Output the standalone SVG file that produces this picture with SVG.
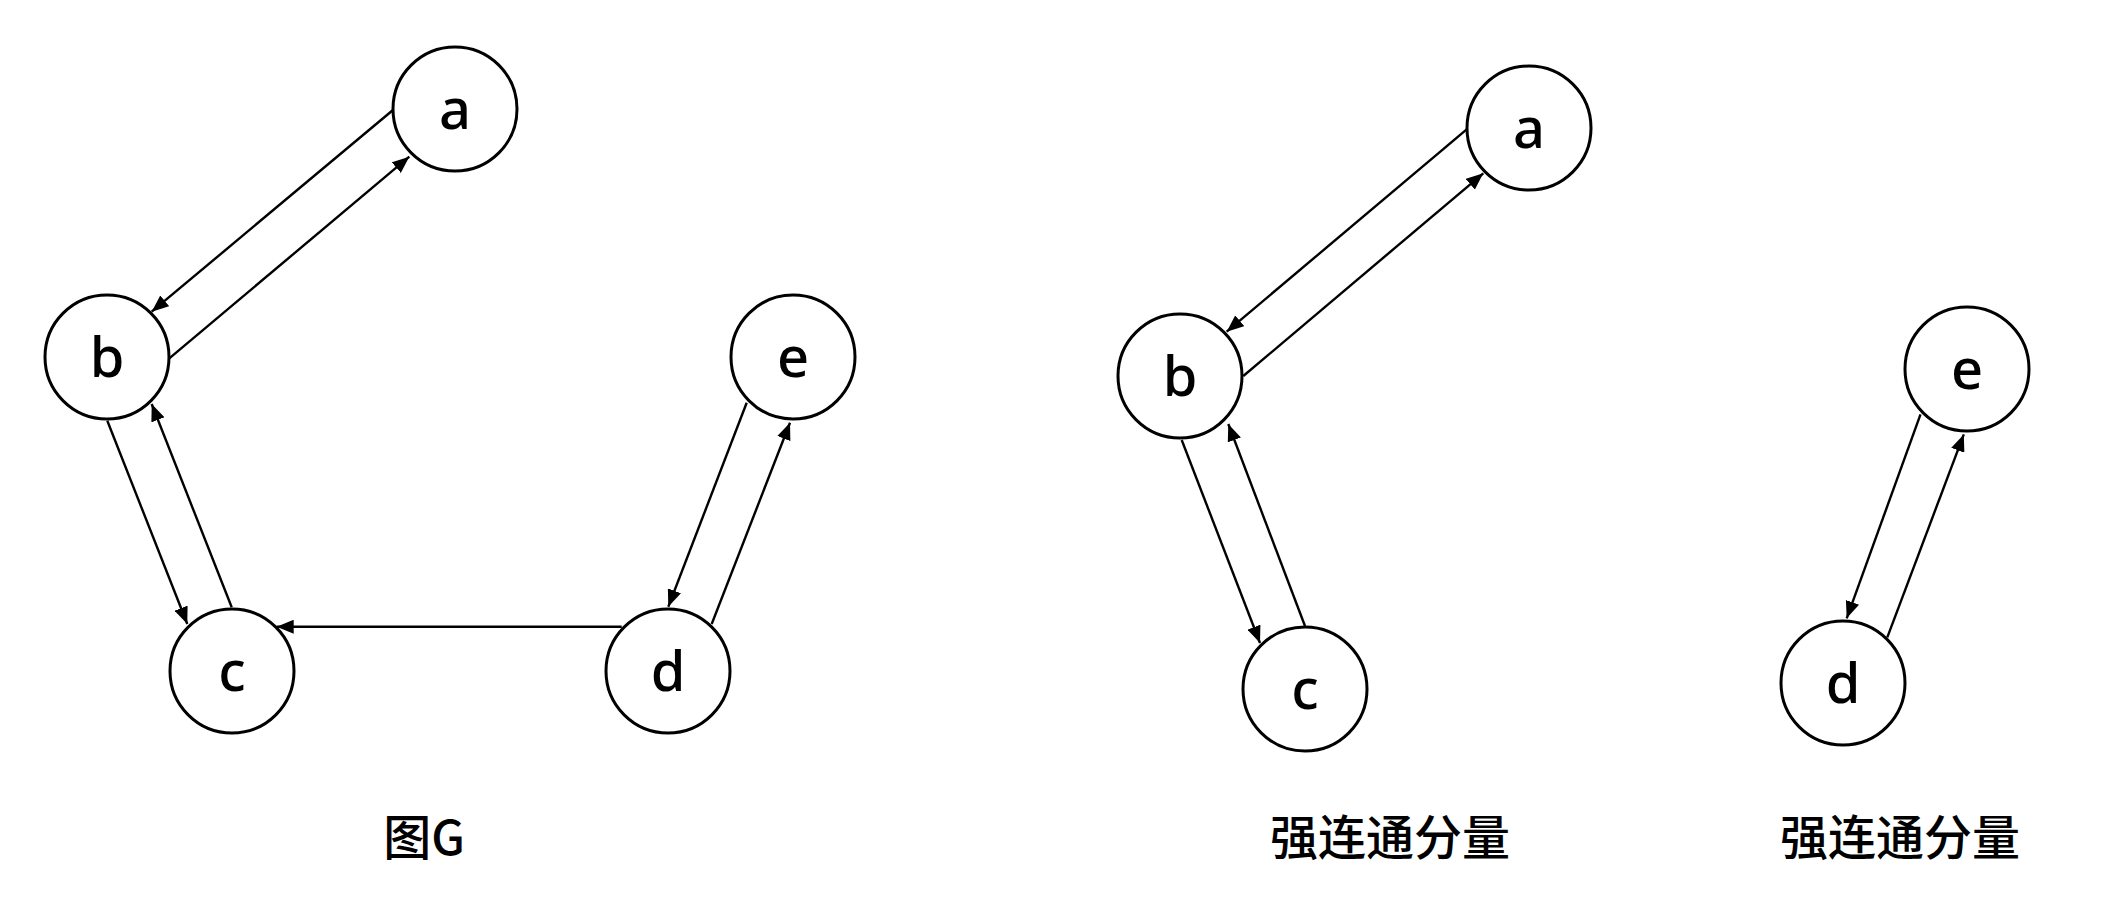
<svg xmlns="http://www.w3.org/2000/svg" width="2120" height="904" viewBox="0 0 2120 904">
<style>
.node circle{fill:#fff;stroke:#000;stroke-width:3}
.node text{font-family:"Noto Sans","Open Sans","DejaVu Sans",sans-serif;font-size:56px;font-weight:500;text-anchor:middle;fill:#000}
.edge{stroke:#000;stroke-width:2.4;fill:none;marker-end:url(#arr)}
.cap{font-family:"Noto Sans CJK SC","Noto Sans",sans-serif;font-size:48px;font-weight:500;text-anchor:middle;fill:#000}
</style>
<defs>
<marker id="arr" markerUnits="userSpaceOnUse" markerWidth="19" markerHeight="14" refX="17" refY="7" orient="auto">
<path d="M0,0 L17,7 L0,14 z" fill="#000"/>
</marker>
</defs>
<rect width="2120" height="904" fill="#fff"/>
<g id="connectors">
<line class="edge" x1="393" y1="110" x2="151.7" y2="311.7"/>
<line class="edge" x1="169.3" y1="358.3" x2="409.3" y2="156.7"/>
<line class="edge" x1="107.3" y1="420.7" x2="187.3" y2="624"/>
<line class="edge" x1="231.7" y1="607.3" x2="151.7" y2="404"/>
<line class="edge" x1="621.7" y1="626.7" x2="276.7" y2="626.7"/>
<line class="edge" x1="746.7" y1="402.7" x2="668.3" y2="606.7"/>
<line class="edge" x1="711.7" y1="624" x2="790" y2="422.7"/>
<line class="edge" x1="1466.7" y1="129.3" x2="1226.7" y2="331.7"/>
<line class="edge" x1="1243.3" y1="376" x2="1483.3" y2="173.3"/>
<line class="edge" x1="1181.7" y1="440" x2="1260" y2="643"/>
<line class="edge" x1="1305" y1="626" x2="1228.3" y2="424"/>
<line class="edge" x1="1920.5" y1="414.4" x2="1846.7" y2="618.3"/>
<line class="edge" x1="1887.3" y1="637.3" x2="1963.8" y2="434.4"/>
</g>
<g id="g1-a" class="node"><circle cx="455" cy="109" r="62"/><text x="455" y="129">a</text></g>
<g id="g1-b" class="node"><circle cx="107" cy="357" r="62"/><text x="107" y="377">b</text></g>
<g id="g1-c" class="node"><circle cx="232" cy="671" r="62"/><text x="232" y="691">c</text></g>
<g id="g1-d" class="node"><circle cx="668" cy="671" r="62"/><text x="668" y="691">d</text></g>
<g id="g1-e" class="node"><circle cx="793" cy="357" r="62"/><text x="793" y="377">e</text></g>
<g id="g2-a" class="node"><circle cx="1529" cy="128" r="62"/><text x="1529" y="148">a</text></g>
<g id="g2-b" class="node"><circle cx="1180" cy="376" r="62"/><text x="1180" y="396">b</text></g>
<g id="g2-c" class="node"><circle cx="1305" cy="689" r="62"/><text x="1305" y="709">c</text></g>
<g id="g3-e" class="node"><circle cx="1967" cy="369" r="62"/><text x="1967" y="389">e</text></g>
<g id="g3-d" class="node"><circle cx="1843" cy="683" r="62"/><text x="1843" y="703">d</text></g>
<g id="captions">
<text class="cap" x="424" y="855">图G</text>
<text class="cap" x="1390" y="855">强连通分量</text>
<text class="cap" x="1900" y="855">强连通分量</text>
</g>
</svg>
